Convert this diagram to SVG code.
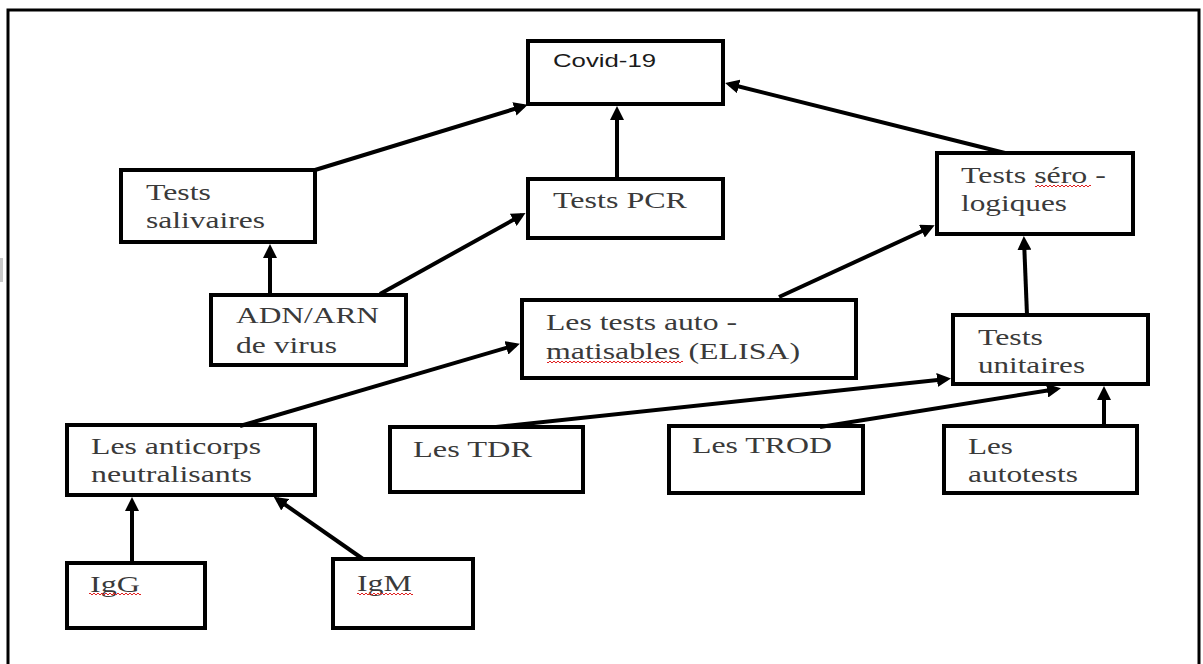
<svg xmlns="http://www.w3.org/2000/svg" width="1203" height="664" viewBox="0 0 1203 664">
<style>
.box{fill:#fff;stroke:#000;stroke-width:4}
.t{font-family:"Liberation Serif","Times New Roman",serif;font-size:23px;fill:#3a3a3a}
.s{font-family:"Liberation Sans",Arial,sans-serif;font-size:19px;fill:#1a1a1a}
.c{fill:none;stroke:#000;stroke-width:4;marker-end:url(#ah)}
.sq{fill:url(#wave)}
</style>
<defs>
<marker id="ah" markerUnits="userSpaceOnUse" markerWidth="14" markerHeight="14" refX="10" refY="7" orient="auto">
<path d="M0,0 L14,7 L0,14 z" fill="#000"/>
</marker>
<pattern id="wave" patternUnits="userSpaceOnUse" width="4" height="4">
<polyline points="0,3 2,1 4,3" fill="none" stroke="#e02020" stroke-width="1"/>
</pattern>
</defs>
<rect width="1203" height="664" fill="#fff"/>
<rect x="0" y="258" width="3" height="24" fill="#c8c8c8"/>
<rect x="8" y="10" width="1191" height="700" fill="none" stroke="#000" stroke-width="3"/>

<g id="n-covid"><rect class="box" x="528" y="41" width="195" height="63"/><text class="s" transform="translate(553,67) scale(1.37,1)" textLength="75.2" lengthAdjust="spacingAndGlyphs">Covid-19</text></g>
<g id="n-pcr"><rect class="box" x="528" y="179" width="195" height="59"/><text class="t" transform="translate(553,208) scale(1.37,1)" textLength="97.8" lengthAdjust="spacingAndGlyphs">Tests PCR</text></g>
<g id="n-salivaires"><rect class="box" x="121" y="170" width="194" height="72"/><text class="t" transform="translate(146,200) scale(1.37,1)" textLength="47.4" lengthAdjust="spacingAndGlyphs">Tests</text><text class="t" transform="translate(146,228) scale(1.37,1)" textLength="86.9" lengthAdjust="spacingAndGlyphs">salivaires</text></g>
<g id="n-sero"><rect class="box" x="937" y="153" width="196" height="81"/><text class="t" transform="translate(961,183) scale(1.37,1)" textLength="105.8" lengthAdjust="spacingAndGlyphs">Tests séro -</text><text class="t" transform="translate(961,211) scale(1.37,1)" textLength="77.4" lengthAdjust="spacingAndGlyphs">logiques</text><rect class="sq" x="1035" y="183" width="56" height="4"/></g>
<g id="n-adn"><rect class="box" x="211" y="295" width="195" height="70"/><text class="t" transform="translate(236,323) scale(1.37,1)" textLength="104.4" lengthAdjust="spacingAndGlyphs">ADN/ARN</text><text class="t" transform="translate(236,353) scale(1.37,1)" textLength="73.7" lengthAdjust="spacingAndGlyphs">de virus</text></g>
<g id="n-elisa"><rect class="box" x="522" y="300" width="334" height="78"/><text class="t" transform="translate(546,330) scale(1.37,1)" textLength="139.4" lengthAdjust="spacingAndGlyphs">Les tests auto -</text><text class="t" transform="translate(546,359) scale(1.37,1)" textLength="185.4" lengthAdjust="spacingAndGlyphs">matisables (ELISA)</text><rect class="sq" x="547" y="360" width="136" height="4"/></g>
<g id="n-unitaires"><rect class="box" x="953" y="315" width="195" height="69"/><text class="t" transform="translate(978,345) scale(1.37,1)" textLength="47.4" lengthAdjust="spacingAndGlyphs">Tests</text><text class="t" transform="translate(978,373) scale(1.37,1)" textLength="78.1" lengthAdjust="spacingAndGlyphs">unitaires</text></g>
<g id="n-anticorps"><rect class="box" x="67" y="425" width="248" height="70"/><text class="t" transform="translate(91,454) scale(1.37,1)" textLength="124.1" lengthAdjust="spacingAndGlyphs">Les anticorps</text><text class="t" transform="translate(91,482) scale(1.37,1)" textLength="117.5" lengthAdjust="spacingAndGlyphs">neutralisants</text></g>
<g id="n-tdr"><rect class="box" x="390" y="427" width="193" height="65"/><text class="t" transform="translate(413,457) scale(1.37,1)" textLength="86.9" lengthAdjust="spacingAndGlyphs">Les TDR</text></g>
<g id="n-trod"><rect class="box" x="669" y="426" width="194" height="67"/><text class="t" transform="translate(692,453) scale(1.37,1)" textLength="102.2" lengthAdjust="spacingAndGlyphs">Les TROD</text></g>
<g id="n-autotests"><rect class="box" x="944" y="426" width="193" height="67"/><text class="t" transform="translate(968,454) scale(1.37,1)" textLength="32.8" lengthAdjust="spacingAndGlyphs">Les</text><text class="t" transform="translate(968,482) scale(1.37,1)" textLength="80.3" lengthAdjust="spacingAndGlyphs">autotests</text></g>
<g id="n-igg"><rect class="box" x="67" y="563" width="138" height="65"/><text class="t" transform="translate(90,592) scale(1.37,1)" textLength="36.5" lengthAdjust="spacingAndGlyphs">IgG</text><rect class="sq" x="89" y="592" width="52" height="4"/></g>
<g id="n-igm"><rect class="box" x="333" y="559" width="140" height="69"/><text class="t" transform="translate(357,591) scale(1.37,1)" textLength="40.1" lengthAdjust="spacingAndGlyphs">IgM</text><rect class="sq" x="357" y="591" width="56" height="4"/></g>

<g id="connectors">
<path class="c" d="M315,170 L524,106"/>
<path class="c" d="M617,179 L617,110"/>
<path class="c" d="M1005,153 L729,84"/>
<path class="c" d="M270,295 L270,248"/>
<path class="c" d="M380,294 L522,215"/>
<path class="c" d="M779,297 L931,227"/>
<path class="c" d="M1027,315 L1024,240"/>
<path class="c" d="M240,426 L516,345"/>
<path class="c" d="M496,427 L947,379"/>
<path class="c" d="M820,427 L1057,389"/>
<path class="c" d="M1104,426 L1104,390"/>
<path class="c" d="M132,563 L132,501"/>
<path class="c" d="M363,559 L277,499"/>
</g>
</svg>
